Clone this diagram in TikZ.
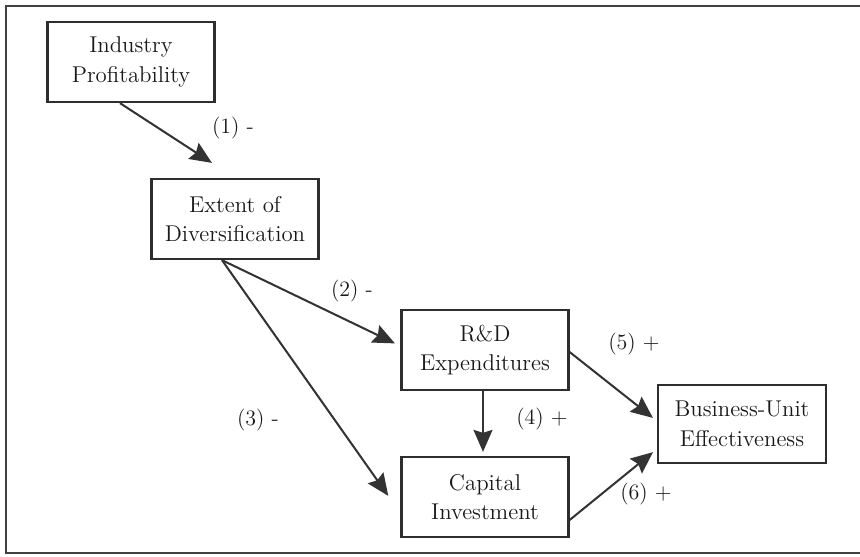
\documentclass[tikz,border=0pt]{standalone}
\usepackage{tikz}
\usetikzlibrary{positioning,calc,arrows.meta}
\tikzset{
factor/.style={draw=black!82,line width=1.3pt,fill=white,minimum width=3.34cm,minimum height=1.6cm,
inner sep=2pt,align=center,font=\fontsize{13}{17}\selectfont,text=black!90},
sign/.style={font=\fontsize{12.5}{14}\selectfont,text=black!90},
link/.style={-{Stealth[length=0.44cm,width=0.38cm,inset=0.06cm]},line width=1.15pt,draw=black!80},
frameline/.style={line width=1.2pt,draw=black!75}
}

\begin{document}
\begin{tikzpicture}[x=0.02cm,y=-0.02cm]
\useasboundingbox (0,0) rectangle (860,556);
\fill[white] (0,0) rectangle (860,556);
\draw[frameline] (860,6) -- (6,6) -- (6,553) -- (860,553);
% boxes
\node[factor] (ip) at (131,62) {Industry\\Profitability};
\node[factor] (ext) at (235,219) {Extent of\\Diversification};
\node[factor] (rd) at (485,350) {R\&D\\Expenditures};
\node[factor] (ci) at (485,497) {Capital\\Investment};
\node[factor,minimum width=3.36cm,minimum height=1.56cm] (bu) at (742,424) {Business-Unit\\Effectiveness};
% signs
\node[sign] (s1) at (233,128) {(1) -};
\node[sign] (s2) at (352,291) {(2) -};
\node[sign] (s3) at (258,420) {(3) -};
\node[sign] (s4) at (542,419) {(4) +};
\node[sign] (s5) at (634,344) {(5) +};
\node[sign] (s6) at (646,494) {(6) +};
% paths
\draw[link,shorten >=0.55cm] ([xshift=-0.22cm]ip.south) -- (ext.north);
\draw[link,shorten >=0.12cm] ([xshift=-0.26cm]ext.south) -- ([yshift=0.08cm]rd.west);
\draw[link,shorten >=0.42cm] ([xshift=-0.26cm]ext.south) -- ([yshift=-0.32cm]ci.west);
\draw[link,shorten >=0.08cm] ([xshift=-0.04cm]rd.south) -- ([xshift=-0.04cm]ci.north);
\draw[link,shorten >=0.1cm] ([yshift=-0.04cm]rd.east) -- ([yshift=0.06cm]bu.west);
\draw[link,shorten >=0.1cm] ([yshift=-0.46cm]ci.east) -- ([yshift=-0.5cm]bu.west);
\end{tikzpicture}
\end{document}
